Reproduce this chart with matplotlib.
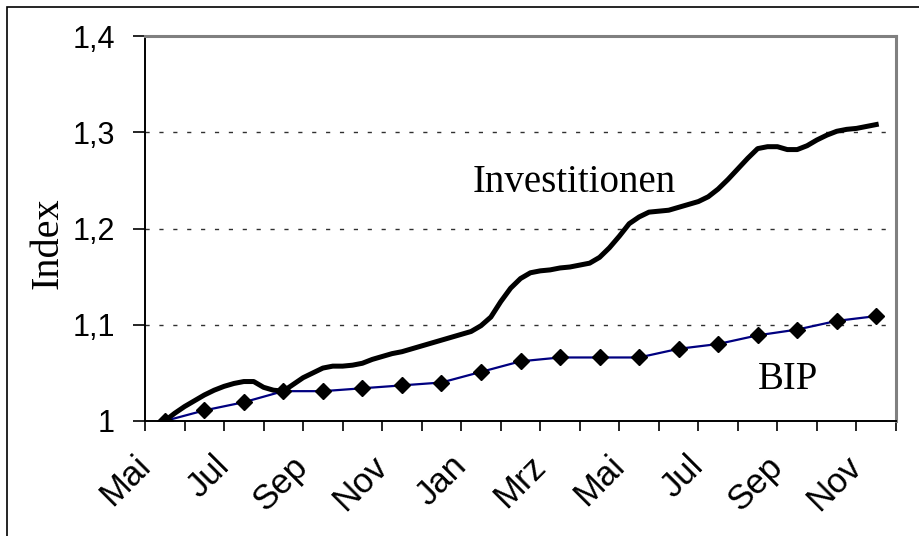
import numpy as np
import matplotlib.pyplot as plt
from matplotlib.patches import Rectangle
from matplotlib.transforms import ScaledTranslation

# ─── DATA ───────────────────────────────────────────────────────────────────
months = ["Mai", "Jun", "Jul", "Aug", "Sep", "Okt", "Nov", "Dez", "Jan", "Feb",
          "Mrz", "Apr", "Mai", "Jun", "Jul", "Aug", "Sep", "Okt", "Nov"]
bip = [1.000, 1.011, 1.0195, 1.031, 1.031, 1.034, 1.037, 1.040, 1.051, 1.062,
       1.066, 1.066, 1.066, 1.075, 1.080, 1.089, 1.095, 1.104, 1.109]

# weekly (quarter-month) values
invest = [1.000, 1.008, 1.015, 1.021, 1.027, 1.032, 1.036, 1.039,
          1.041, 1.041, 1.035, 1.032, 1.031, 1.038, 1.045, 1.050,
          1.055, 1.057, 1.057, 1.058, 1.060, 1.064, 1.067, 1.070,
          1.072, 1.075, 1.078, 1.081, 1.084, 1.087, 1.090, 1.093,
          1.099, 1.108, 1.124, 1.138, 1.148, 1.154, 1.156, 1.157,
          1.159, 1.160, 1.162, 1.164, 1.170, 1.180, 1.192, 1.205,
          1.212, 1.217, 1.218, 1.219, 1.222, 1.225, 1.228, 1.233,
          1.241, 1.251, 1.262, 1.273, 1.283, 1.285, 1.285, 1.282,
          1.282, 1.286, 1.292, 1.297, 1.301, 1.303, 1.304, 1.306,
          1.308]

yticks = [1.0, 1.1, 1.2, 1.3, 1.4]
ylabels = ["1", "1,1", "1,2", "1,3", "1,4"]

# ─── PLOT ───────────────────────────────────────────────────────────────────
fig = plt.figure(figsize=(9.19, 5.36), dpi=100)
ax = fig.add_axes([145 / 919, 1 - 421 / 536, 751 / 919, 385 / 536])

# outer chart frame (only left and top edges fall inside the picture)
fig.patches.append(Rectangle((6.5 / 919, -0.1), 1.1, 1.1 - 6.5 / 536,
                             transform=fig.transFigure, fill=False,
                             edgecolor='black', lw=1.2))

x_bip = np.arange(len(bip))
x_inv = np.arange(len(invest)) / 4.0

for y in yticks[1:-1]:
    ax.axhline(y, color='#303030', lw=1.0, ls=(0, (3, 7)), zorder=1)

ax.plot(x_inv, invest, color='black', lw=3.6, solid_joinstyle='round', zorder=3)
ax.plot(x_bip, bip, color='#000080', lw=1.6, marker='D', markersize=8,
        markerfacecolor='black', markeredgecolor='black', zorder=4)

ax.text(7.8, 1.2375, "Investitionen", family='Liberation Serif', fontsize=28,
        ha='left', va='baseline')
ax.text(15.0, 1.033, "BIP", family='Liberation Serif', fontsize=28,
        ha='left', va='baseline')

ax.set_xlim(-0.5, len(months) - 0.5)
ax.set_ylim(1.0, 1.4)

ax.set_yticks(yticks)
ax.set_yticklabels(ylabels, family='Liberation Sans', fontsize=22)
ax.set_xticks(np.arange(-0.5, len(months), 1.0))
ax.set_xticklabels([])
ax.tick_params(axis='x', length=7, width=1.2, direction='out')
ax.tick_params(axis='y', length=8.6, width=1.2, direction='out', pad=13)

# month labels, every second category, rotated like the Excel axis
lab_tr = ax.get_xaxis_transform() + ScaledTranslation(-20 / 100, -40 / 100,
                                                      fig.dpi_scale_trans)
for xi, m in zip(x_bip[::2], months[::2]):
    ax.text(xi, 0, m, transform=lab_tr, family='Liberation Sans', fontsize=25,
            rotation=45, ha='right', va='center', rotation_mode='anchor',
            clip_on=False)

ax.set_ylabel("Index", family='Liberation Serif', fontsize=29)
ax.yaxis.set_label_coords(-0.104, 0.462)

for side in ['left', 'bottom']:
    ax.spines[side].set_color('black')
    ax.spines[side].set_linewidth(1.4)
for side in ['top', 'right']:
    ax.spines[side].set_color('#808080')
    ax.spines[side].set_linewidth(2.2)

plt.savefig('out.png', dpi=100)
